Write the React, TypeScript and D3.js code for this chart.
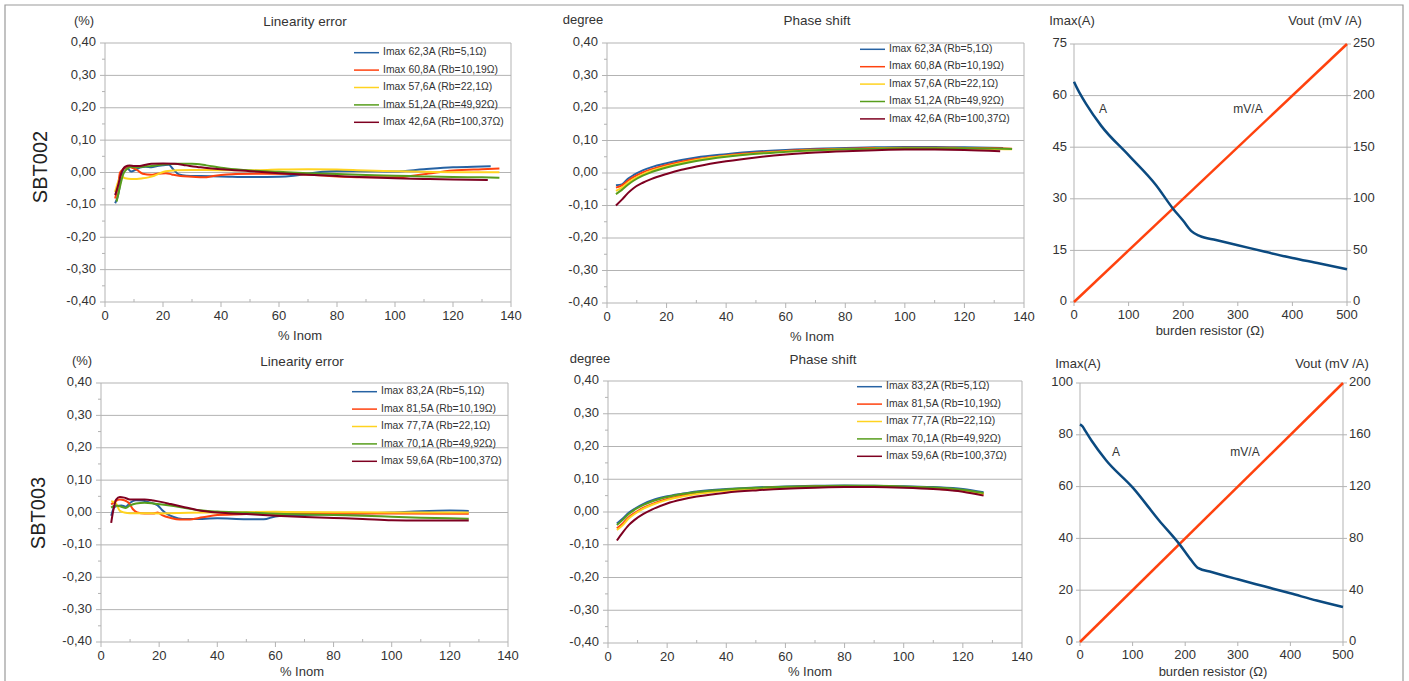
import React from "react";
import * as d3 from "d3";

// ---------- DATA ----------
const seriesColors = ["#2662a3", "#ff420e", "#ffd320", "#579d1c", "#7e0021"];

const names002 = [
  "Imax 62,3A (Rb=5,1Ω)",
  "Imax 60,8A (Rb=10,19Ω)",
  "Imax 57,6A (Rb=22,1Ω)",
  "Imax 51,2A (Rb=49,92Ω)",
  "Imax 42,6A (Rb=100,37Ω)",
];
const names003 = [
  "Imax 83,2A (Rb=5,1Ω)",
  "Imax 81,5A (Rb=10,19Ω)",
  "Imax 77,7A (Rb=22,1Ω)",
  "Imax 70,1A (Rb=49,92Ω)",
  "Imax 59,6A (Rb=100,37Ω)",
];

const errTicks = [-0.4, -0.3, -0.2, -0.1, 0, 0.1, 0.2, 0.3, 0.4];
const inomTicks = [0, 20, 40, 60, 80, 100, 120, 140];

// SBT002 linearity error [%Inom, %]
const lin002_s1: [number, number][] = [[3.5,-0.095],[4.5,-0.07],[5.5,-0.02],[6.5,0.012],[7.5,0.015],[9,0.003],[10.5,0.008],[12,0.015],[14,0.018],[16,0.016],[18,0.02],[20,0.022],[22,0.024],[23.5,0.01],[25.5,-0.006],[28,-0.01],[33,-0.011],[40,-0.012],[50,-0.014],[60,-0.013],[65,-0.01],[70,-0.004],[75,0.002],[80,0.005],[90,0.004],[100,0.003],[110,0.01],[120,0.016],[127,0.018],[133,0.019]];
const lin002_s2: [number, number][] = [[3.5,-0.08],[4.5,-0.04],[5.2,0.0],[6.5,0.012],[8,0.019],[9.5,0.014],[11,0.008],[13,-0.004],[16,-0.007],[18,-0.004],[21,-0.002],[23,-0.006],[26,-0.011],[30,-0.013],[34,-0.015],[38,-0.01],[45,-0.005],[55,-0.004],[65,-0.005],[80,-0.012],[90,-0.015],[100,-0.015],[110,-0.005],[120,0.006],[130,0.01],[136,0.012]];
const lin002_s3: [number, number][] = [[3.5,-0.06],[4.5,-0.03],[5.5,-0.012],[7,-0.018],[9,-0.02],[11,-0.02],[13,-0.018],[15,-0.015],[17,-0.01],[19,-0.002],[21,0.004],[25,0.007],[30,0.008],[40,0.007],[50,0.007],[60,0.009],[70,0.01],[80,0.009],[90,0.006],[100,0.004],[110,0.002],[120,0.001],[130,0.001],[136,0.001]];
const lin002_s4: [number, number][] = [[4,-0.09],[5,-0.05],[6.3,-0.005],[7.5,0.01],[9,0.017],[11,0.016],[13,0.018],[16,0.02],[20,0.025],[25,0.027],[30,0.027],[35,0.022],[40,0.015],[45,0.01],[50,0.006],[60,0.002],[70,-0.002],[80,-0.005],[90,-0.008],[100,-0.01],[110,-0.012],[120,-0.014],[130,-0.015],[136,-0.016]];
const lin002_s5: [number, number][] = [[3.5,-0.07],[4.5,-0.04],[5.5,-0.005],[7,0.018],[8.5,0.022],[10,0.02],[12,0.02],[14,0.024],[16,0.027],[20,0.028],[24,0.027],[28,0.022],[33,0.016],[40,0.01],[50,0.004],[60,-0.002],[70,-0.007],[80,-0.011],[90,-0.015],[100,-0.018],[110,-0.02],[120,-0.022],[132,-0.023]];

// SBT002 phase shift [%Inom, degree]
const ph002_s1: [number, number][] = [[3,-0.038],[5,-0.035],[7,-0.018],[9,-0.006],[12,0.008],[15,0.018],[20,0.03],[25,0.04],[30,0.048],[40,0.058],[50,0.066],[60,0.071],[70,0.075],[80,0.077],[90,0.079],[100,0.08],[110,0.08],[120,0.079],[133,0.077]];
const ph002_s2: [number, number][] = [[3,-0.045],[5,-0.038],[7,-0.024],[9,-0.012],[12,0.002],[15,0.012],[20,0.025],[25,0.035],[30,0.043],[40,0.054],[50,0.062],[60,0.068],[70,0.072],[80,0.075],[90,0.077],[100,0.078],[110,0.078],[120,0.077],[130,0.076],[136,0.075]];
const ph002_s3: [number, number][] = [[3,-0.055],[5,-0.045],[7,-0.03],[9,-0.018],[12,-0.004],[15,0.007],[20,0.02],[25,0.031],[30,0.04],[40,0.052],[50,0.06],[60,0.066],[70,0.07],[80,0.073],[90,0.075],[100,0.076],[110,0.076],[120,0.075],[130,0.074],[136,0.073]];
const ph002_s4: [number, number][] = [[3,-0.065],[5,-0.052],[7,-0.036],[9,-0.023],[12,-0.008],[15,0.003],[20,0.017],[25,0.028],[30,0.037],[40,0.05],[50,0.059],[60,0.065],[70,0.07],[80,0.073],[90,0.075],[100,0.076],[110,0.076],[120,0.076],[130,0.075],[136,0.074]];
const ph002_s5: [number, number][] = [[3,-0.1],[5,-0.082],[7,-0.062],[9,-0.046],[12,-0.03],[15,-0.018],[20,-0.003],[25,0.01],[30,0.02],[40,0.036],[50,0.048],[60,0.057],[70,0.063],[80,0.067],[90,0.07],[100,0.072],[110,0.072],[120,0.071],[132,0.067]];

// SBT003 linearity error
const lin003_s1: [number, number][] = [[3.5,-0.01],[4.5,0.015],[5.5,0.02],[7,0.022],[8.5,0.018],[10,0.03],[12,0.038],[14,0.037],[16,0.033],[18,0.028],[19.5,0.022],[21,0.008],[23,-0.006],[25,-0.014],[28,-0.02],[32,-0.02],[40,-0.018],[50,-0.021],[56,-0.021],[60,-0.012],[70,-0.008],[80,-0.005],[90,-0.003],[100,0.0],[110,0.004],[120,0.006],[126.5,0.005]];
const lin003_s2: [number, number][] = [[3.5,0.025],[5,0.035],[6.5,0.04],[8,0.038],[9.5,0.03],[11,0.01],[12.5,0.0],[15,-0.003],[18,-0.003],[19.5,0.0],[21,-0.008],[24,-0.017],[27,-0.022],[30,-0.022],[35,-0.015],[40,-0.008],[50,-0.005],[60,-0.004],[80,-0.003],[100,-0.003],[126.5,-0.004]];
const lin003_s3: [number, number][] = [[3.5,0.035],[5,0.03],[6.5,0.005],[8,0.0],[10,-0.002],[15,-0.002],[20,-0.003],[30,-0.001],[40,0.0],[60,0.002],[80,0.001],[100,0.0],[126.5,0.0]];
const lin003_s4: [number, number][] = [[3.5,0.015],[5,0.022],[7,0.018],[8.5,0.014],[10,0.022],[12,0.028],[15,0.03],[18,0.028],[21,0.025],[25,0.02],[30,0.012],[35,0.006],[40,0.003],[50,0.0],[60,-0.004],[70,-0.006],[80,-0.008],[90,-0.01],[100,-0.013],[110,-0.016],[120,-0.018],[126.5,-0.019]];
const lin003_s5: [number, number][] = [[3.5,-0.032],[4.3,0.01],[5.2,0.04],[6.5,0.048],[8,0.046],[10,0.04],[12,0.04],[15,0.04],[18,0.037],[21,0.032],[24,0.026],[28,0.018],[33,0.008],[40,0.0],[50,-0.005],[60,-0.01],[70,-0.014],[80,-0.017],[90,-0.02],[100,-0.024],[110,-0.025],[120,-0.025],[126.5,-0.025]];

// SBT003 phase shift
const ph003_s1: [number, number][] = [[3,-0.035],[5,-0.02],[7,-0.002],[9,0.01],[12,0.025],[15,0.036],[20,0.048],[25,0.056],[30,0.063],[40,0.07],[50,0.075],[60,0.078],[70,0.08],[80,0.081],[90,0.08],[100,0.079],[110,0.076],[120,0.07],[127,0.06]];
const ph003_s2: [number, number][] = [[3,-0.05],[5,-0.035],[7,-0.016],[9,-0.003],[12,0.013],[15,0.025],[20,0.04],[25,0.05],[30,0.057],[40,0.066],[50,0.072],[60,0.076],[70,0.078],[80,0.079],[90,0.078],[100,0.076],[110,0.072],[120,0.064],[127,0.054]];
const ph003_s3: [number, number][] = [[3,-0.055],[5,-0.04],[7,-0.02],[9,-0.006],[12,0.01],[15,0.022],[20,0.037],[25,0.047],[30,0.055],[40,0.065],[50,0.071],[60,0.075],[70,0.077],[80,0.078],[90,0.078],[100,0.076],[110,0.072],[120,0.065],[127,0.056]];
const ph003_s4: [number, number][] = [[3,-0.04],[5,-0.024],[7,-0.006],[9,0.007],[12,0.022],[15,0.033],[20,0.046],[25,0.055],[30,0.061],[40,0.069],[50,0.074],[60,0.077],[70,0.079],[80,0.08],[90,0.08],[100,0.078],[110,0.075],[120,0.068],[127,0.058]];
const ph003_s5: [number, number][] = [[3,-0.087],[5,-0.062],[7,-0.04],[9,-0.024],[12,-0.006],[15,0.008],[20,0.026],[25,0.038],[30,0.047],[40,0.059],[50,0.066],[60,0.071],[70,0.074],[80,0.076],[90,0.076],[100,0.074],[110,0.07],[120,0.062],[127,0.05]];

// Burden resistor charts [Ω, A] and [Ω, mV/A]
const burdenTicks = [0, 100, 200, 300, 400, 500];
const imax002: [number, number][] = [[0,64],[5.1,62.3],[10.19,60.8],[22.1,57.6],[49.92,51.2],[100.37,42.6],[150,34],[181,27.2],[200,23.6],[215,20.6],[230,19.2],[260,18],[300,16.5],[350,14.6],[400,12.8],[450,11.2],[500,9.5]];
const vout002: [number, number][] = [[0,0],[500,250]];
const imax002Ticks = [0, 15, 30, 45, 60, 75];
const vout002Ticks = [0, 50, 100, 150, 200, 250];
const imax003: [number, number][] = [[0,84],[5.1,83.2],[10.19,81.5],[22.1,77.7],[49.92,70.1],[100.37,59.6],[150,47],[190,37.5],[210,32],[225,28.5],[250,27],[300,24.2],[350,21.5],[400,18.8],[450,16],[500,13.5]];
const vout003: [number, number][] = [[0,0],[500,200]];
const imax003Ticks = [0, 20, 40, 60, 80, 100];
const vout003Ticks = [0, 40, 80, 120, 160, 200];

// ---------- DRAWING ----------
const FONT = "'Liberation Sans', Arial, sans-serif";
const TXT = "#333333";
const GRID = "#b3b3b3";

const fmtErr = (d: number) => (Math.abs(d) < 1e-9 ? "0,00" : d.toFixed(2).replace(".", ","));

type Pt = [number, number];

function ErrPanel(props: {
  x0: number; x1: number; y0: number; y1: number;
  title: string; titleX: number; titleY: number;
  unit: string; unitX: number; unitY: number;
  series: Pt[][]; names: string[];
  legX: number; legY: number; xLabelY: number; xLabelX: number;
}) {
  const { x0, x1, y0, y1, series, names } = props;
  const x = d3.scaleLinear().domain([0, 140]).range([x0, x1]);
  const y = d3.scaleLinear().domain([-0.4, 0.4]).range([y1, y0]);
  const line = d3.line<Pt>().x(d => x(d[0])).y(d => y(d[1])).curve(d3.curveMonotoneX);
  const minorY = d3.range(-0.35, 0.4, 0.1);
  const minorX = d3.range(10, 140, 20);
  return (
    <g>
      {errTicks.map(t => (
        <line key={"g" + t} x1={x0} x2={x1} y1={y(t)} y2={y(t)} stroke={GRID} strokeWidth={1} />
      ))}
      <line x1={x0} x2={x0} y1={y0} y2={y1} stroke={GRID} />
      <line x1={x1} x2={x1} y1={y0} y2={y1} stroke={GRID} />
      {errTicks.map(t => (
        <line key={"t" + t} x1={x0 - 5} x2={x0} y1={y(t)} y2={y(t)} stroke={GRID} />
      ))}
      {minorY.map(t => (
        <line key={"m" + t} x1={x0 - 3} x2={x0} y1={y(t)} y2={y(t)} stroke={GRID} />
      ))}
      {inomTicks.map(t => (
        <line key={"xt" + t} x1={x(t)} x2={x(t)} y1={y1} y2={y1 + 5} stroke={GRID} />
      ))}
      {minorX.map(t => (
        <line key={"xm" + t} x1={x(t)} x2={x(t)} y1={y1 - 3} y2={y1} stroke={GRID} />
      ))}
      {errTicks.map(t => (
        <text key={"l" + t} x={x0 - 9} y={y(t)} textAnchor="end" dominantBaseline="middle"
          fontSize={13} fill={TXT} fontFamily={FONT}>{fmtErr(t)}</text>
      ))}
      {inomTicks.map(t => (
        <text key={"xl" + t} x={x(t)} y={y1 + 15} textAnchor="middle" dominantBaseline="middle"
          fontSize={13} fill={TXT} fontFamily={FONT}>{t}</text>
      ))}
      {series.map((s, i) => (
        <path key={"s" + i} d={line(s) || ""} fill="none" stroke={seriesColors[i]} strokeWidth={2} />
      ))}
      {names.map((n, i) => (
        <g key={"lg" + i}>
          <line x1={props.legX} x2={props.legX + 25} y1={props.legY + i * 17.4} y2={props.legY + i * 17.4}
            stroke={seriesColors[i]} strokeWidth={1.5} />
          <text x={props.legX + 29} y={props.legY + i * 17.4} dominantBaseline="middle" fontSize={10.4}
            fill={TXT} fontFamily={FONT}>{n}</text>
        </g>
      ))}
      <text x={props.titleX} y={props.titleY} textAnchor="middle" dominantBaseline="middle" fontSize={13.5}
        fill={TXT} fontFamily={FONT}>{props.title}</text>
      <text x={props.unitX} y={props.unitY} textAnchor="middle" dominantBaseline="middle" fontSize={13}
        fill={TXT} fontFamily={FONT}>{props.unit}</text>
      <text x={props.xLabelX} y={props.xLabelY} textAnchor="middle" dominantBaseline="middle" fontSize={13}
        fill={TXT} fontFamily={FONT}>% Inom</text>
    </g>
  );
}

function BurdenPanel(props: {
  x0: number; x1: number; y0: number; y1: number;
  imax: Pt[]; vout: Pt[]; leftTicks: number[]; rightTicks: number[];
  leftTitleX: number; rightTitleX: number; titleY: number;
  aLabel: Pt; mvLabel: Pt; xLabelX: number; xLabelY: number;
}) {
  const { x0, x1, y0, y1, leftTicks, rightTicks } = props;
  const x = d3.scaleLinear().domain([0, 500]).range([x0, x1]);
  const yl = d3.scaleLinear().domain([0, leftTicks[leftTicks.length - 1]]).range([y1, y0]);
  const yr = d3.scaleLinear().domain([0, rightTicks[rightTicks.length - 1]]).range([y1, y0]);
  const lineL = d3.line<Pt>().x(d => x(d[0])).y(d => yl(d[1])).curve(d3.curveMonotoneX);
  const lineR = d3.line<Pt>().x(d => x(d[0])).y(d => yr(d[1]));
  return (
    <g>
      {leftTicks.map(t => (
        <line key={"g" + t} x1={x0} x2={x1} y1={yl(t)} y2={yl(t)} stroke={GRID} />
      ))}
      <line x1={x0} x2={x0} y1={y0} y2={y1} stroke={GRID} />
      <line x1={x1} x2={x1} y1={y0} y2={y1} stroke={GRID} />
      {leftTicks.map(t => (
        <line key={"lt" + t} x1={x0 - 4} x2={x0} y1={yl(t)} y2={yl(t)} stroke={GRID} />
      ))}
      {rightTicks.map(t => (
        <line key={"rt" + t} x1={x1} x2={x1 + 4} y1={yr(t)} y2={yr(t)} stroke={GRID} />
      ))}
      {burdenTicks.map(t => (
        <line key={"xt" + t} x1={x(t)} x2={x(t)} y1={y1} y2={y1 + 4} stroke={GRID} />
      ))}
      {leftTicks.map(t => (
        <text key={"ll" + t} x={x0 - 7} y={yl(t)} textAnchor="end" dominantBaseline="middle" fontSize={13}
          fill={TXT} fontFamily={FONT}>{t}</text>
      ))}
      {rightTicks.map(t => (
        <text key={"rl" + t} x={x1 + 6} y={yr(t)} textAnchor="start" dominantBaseline="middle" fontSize={13}
          fill={TXT} fontFamily={FONT}>{t}</text>
      ))}
      {burdenTicks.map(t => (
        <text key={"xl" + t} x={x(t)} y={y1 + 14} textAnchor="middle" dominantBaseline="middle" fontSize={13}
          fill={TXT} fontFamily={FONT}>{t}</text>
      ))}
      <path d={lineR(props.vout) || ""} fill="none" stroke="#ff420e" strokeWidth={2.5} />
      <path d={lineL(props.imax) || ""} fill="none" stroke="#0b4a80" strokeWidth={2.5} />
      <text x={props.aLabel[0]} y={props.aLabel[1]} textAnchor="middle" dominantBaseline="middle" fontSize={12}
        fill={TXT} fontFamily={FONT}>A</text>
      <text x={props.mvLabel[0]} y={props.mvLabel[1]} textAnchor="middle" dominantBaseline="middle" fontSize={12}
        fill={TXT} fontFamily={FONT}>mV/A</text>
      <text x={props.leftTitleX} y={props.titleY} textAnchor="middle" dominantBaseline="middle" fontSize={13}
        fill={TXT} fontFamily={FONT}>Imax(A)</text>
      <text x={props.rightTitleX} y={props.titleY} textAnchor="middle" dominantBaseline="middle" fontSize={13}
        fill={TXT} fontFamily={FONT}>Vout (mV /A)</text>
      <text x={props.xLabelX} y={props.xLabelY} textAnchor="middle" dominantBaseline="middle" fontSize={13}
        fill={TXT} fontFamily={FONT}>burden resistor (Ω)</text>
    </g>
  );
}

export default function App() {
  return (
    <svg width={1409} height={681} style={{ position: "absolute", left: 0, top: 0, background: "#fff" }}>
      <rect x={0} y={0} width={1409} height={681} fill="#ffffff" />
      <polyline points="5,690 5,5 1403,5 1403,690" fill="none" stroke="#9a9a9a" strokeWidth={1.2} />

      <text x={42} y={167} transform="rotate(-90 42 167)" textAnchor="middle" dominantBaseline="middle"
        fontSize={20} fill="#222" fontFamily={FONT}>SBT002</text>
      <text x={40} y={513} transform="rotate(-90 40 513)" textAnchor="middle" dominantBaseline="middle"
        fontSize={20} fill="#222" fontFamily={FONT}>SBT003</text>

      <ErrPanel x0={105} x1={511} y0={43} y1={302}
        title="Linearity error" titleX={305} titleY={22} unit="(%)" unitX={84} unitY={22}
        series={[lin002_s1, lin002_s2, lin002_s3, lin002_s4, lin002_s5]} names={names002}
        legX={354} legY={52.7} xLabelX={300} xLabelY={337} />
      <ErrPanel x0={607} x1={1024} y0={43} y1={303}
        title="Phase shift" titleX={817} titleY={21} unit="degree" unitX={583} unitY={21}
        series={[ph002_s1, ph002_s2, ph002_s3, ph002_s4, ph002_s5]} names={names002}
        legX={860} legY={49.3} xLabelX={812} xLabelY={338} />
      <BurdenPanel x0={1074} x1={1347} y0={44} y1={302}
        imax={imax002} vout={vout002} leftTicks={imax002Ticks} rightTicks={vout002Ticks}
        leftTitleX={1072} rightTitleX={1325} titleY={22}
        aLabel={[1103, 110]} mvLabel={[1248, 110]} xLabelX={1210} xLabelY={332} />

      <ErrPanel x0={101} x1={508} y0={383} y1={642}
        title="Linearity error" titleX={302} titleY={362} unit="(%)" unitX={82} unitY={362}
        series={[lin003_s1, lin003_s2, lin003_s3, lin003_s4, lin003_s5]} names={names003}
        legX={352} legY={391.7} xLabelX={302} xLabelY={673} />
      <ErrPanel x0={608} x1={1022} y0={381} y1={643}
        title="Phase shift" titleX={823} titleY={360} unit="degree" unitX={590} unitY={360}
        series={[ph003_s1, ph003_s2, ph003_s3, ph003_s4, ph003_s5]} names={names003}
        legX={857} legY={386.7} xLabelX={810} xLabelY={673} />
      <BurdenPanel x0={1080} x1={1343} y0={383} y1={642}
        imax={imax003} vout={vout003} leftTicks={imax003Ticks} rightTicks={vout003Ticks}
        leftTitleX={1078} rightTitleX={1332} titleY={365}
        aLabel={[1116, 453]} mvLabel={[1245, 453]} xLabelX={1213} xLabelY={673} />
    </svg>
  );
}
